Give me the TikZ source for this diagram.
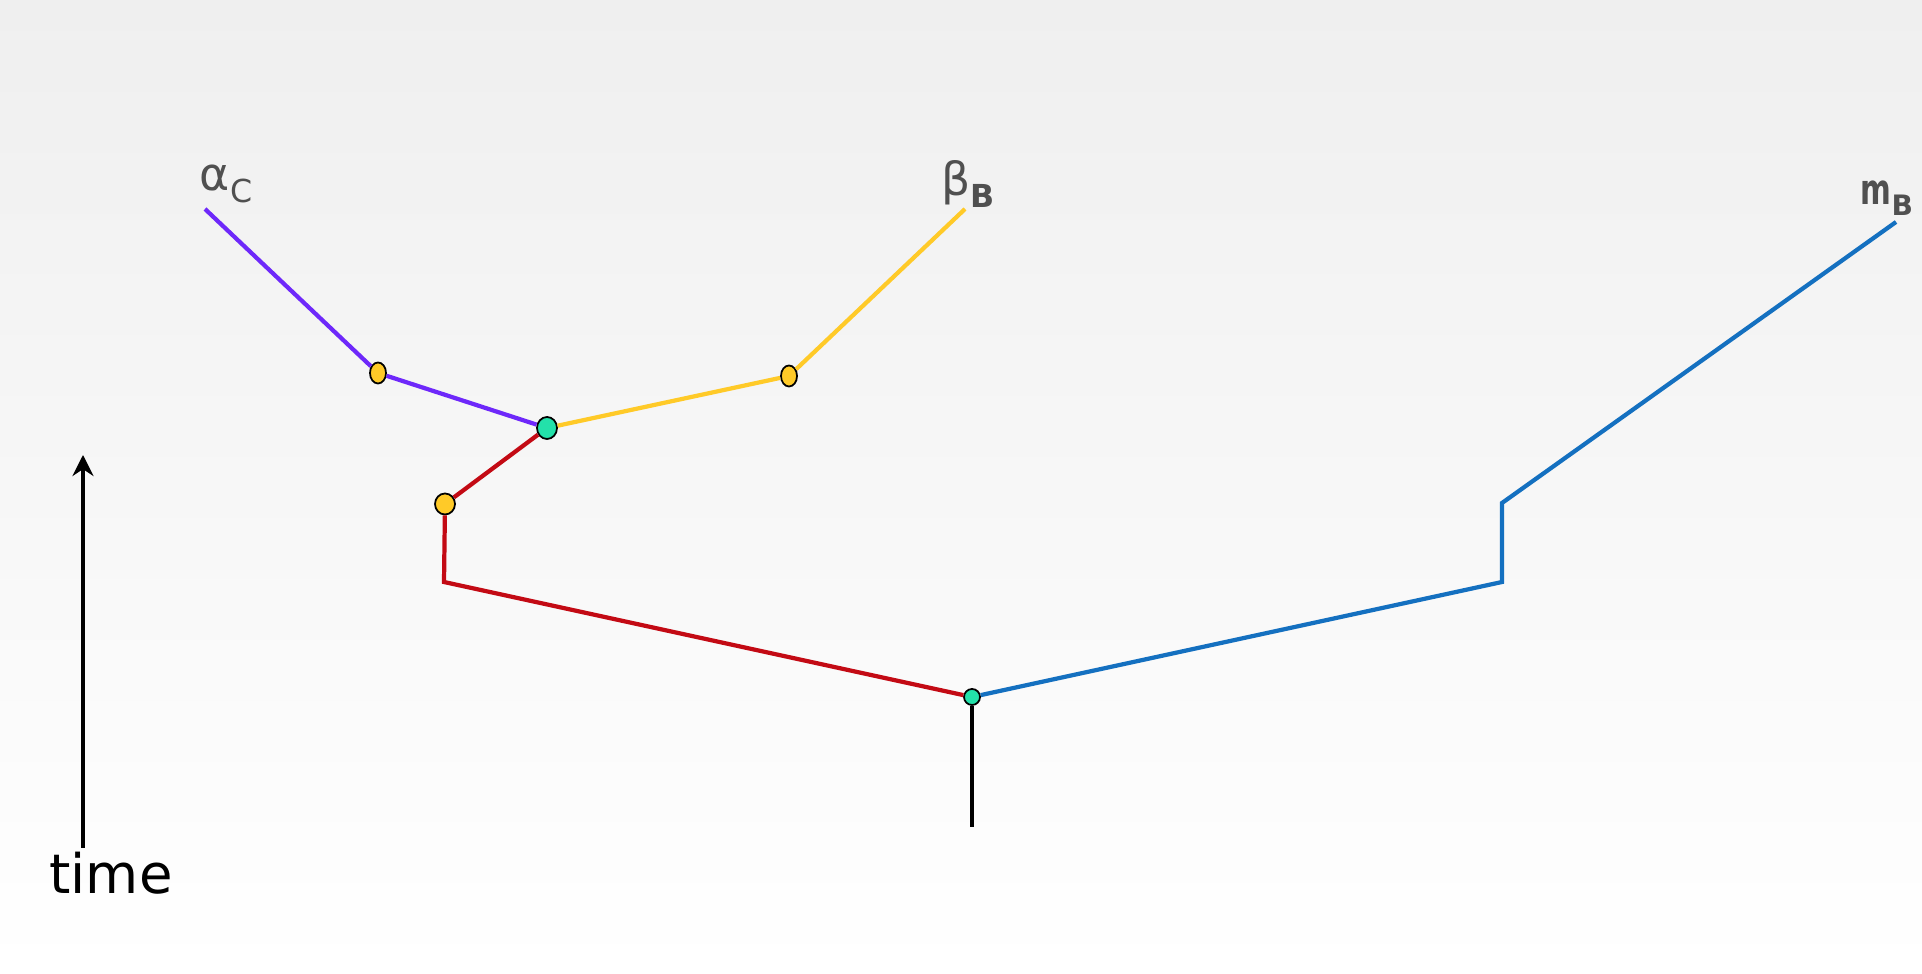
\documentclass[tikz,border=0pt]{standalone}
\usepackage{fontspec,graphicx}
\setmainfont{DejaVu Sans}
\usetikzlibrary{positioning,arrows.meta,shapes.geometric}
\definecolor{lincol}{RGB}{110,40,250}
\definecolor{gold}{RGB}{255,202,40}
\definecolor{darkred}{RGB}{195,10,20}
\definecolor{steel}{RGB}{20,112,192}
\definecolor{mint}{RGB}{35,225,170}
\definecolor{labgray}{RGB}{80,80,80}
\begin{document}
\begin{tikzpicture}[x=0.01cm, y=-0.01cm,
    branch/.style={line width=1.2pt},
    event/.style={ellipse, draw=black, line width=0.5pt, inner sep=0pt, fill=gold, minimum width=0.16cm, minimum height=0.21cm},
    split/.style={ellipse, draw=black, line width=0.5pt, inner sep=0pt, fill=mint},
    lab/.style={text=labgray, inner sep=0pt}]
    \shade[top color={rgb,255:red,239;green,239;blue,239}, bottom color=white] (0,0) rectangle (1922,974);
    \useasboundingbox (0,0) rectangle (1922,974);

    % nodes on the tree
    \node[split, minimum width=0.16cm, minimum height=0.16cm] (root) at (972,697) {};
    \node[split, minimum width=0.20cm, minimum height=0.22cm] (mid) at (547,428) {};
    \node[event] (alphaev) at (378,373) {};
    \node[event] (betaev) at (789,376) {};
    \node[event, minimum width=0.20cm] (redev) at (445,504) {};

    \coordinate (alphatop) at (205,209);
    \coordinate (betatop) at (965,209);
    \coordinate (mtop) at (1896,222);
    \coordinate (redcorner) at (444,582);
    \coordinate (bluelow) at (1502,582);
    \coordinate (bluehigh) at (1502,503);
    \coordinate (stem) at (972,827);

    % branches
    \draw[branch, lincol] (alphatop) -- (alphaev) -- (mid);
    \draw[branch, gold] (mid) -- (betaev) -- (betatop);
    \draw[branch, darkred] (mid) -- (redev) -- (redcorner) -- (root);
    \draw[branch, steel] (root) -- (bluelow) -- (bluehigh) -- (mtop);
    \draw[branch, black] (root) -- (stem);

    % labels
    \node[lab, font=\fontsize{13}{15}\selectfont] (alphalab) at (226,184) {α\raisebox{-0.45ex}{\fontsize{9}{10}\selectfont C}};
    \node[lab, font=\fontsize{13}{15}\selectfont] (betalab) at (968,184) {β\raisebox{-0.45ex}{\fontsize{9}{10}\selectfont\bfseries B}};
    \node[lab, font=\fontsize{12}{14}\selectfont\bfseries] (mlab) at (1887,198) {\scalebox{0.7}[1]{m}\raisebox{-0.5ex}{\fontsize{8}{9}\selectfont B}};

    % time axis
    \coordinate (tbot) at (83,848);
    \coordinate (ttop) at (83,455);
    \draw[line width=0.9pt, -{Stealth[length=6pt, width=6pt, inset=2pt]}] (tbot) -- (ttop);
    \node[font=\fontsize{15.5}{18}\selectfont, inner sep=0pt] (timelab) at (111,873) {time};
\end{tikzpicture}
\end{document}
